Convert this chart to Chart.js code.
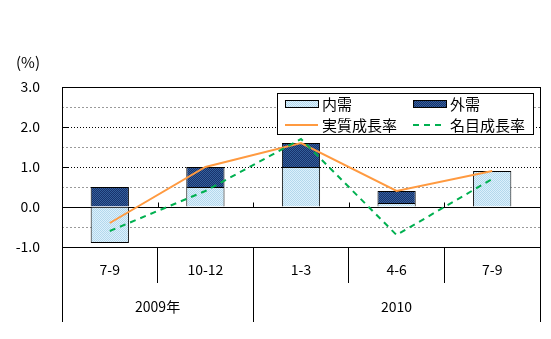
<!DOCTYPE html>
<html>
<head>
<meta charset="utf-8">
<script src="https://cdn.jsdelivr.net/npm/chart.js@4/dist/chart.umd.min.js"></script>
<style>
  html, body { margin: 0; padding: 0; background: #fff; }
  #wrap { width: 551px; height: 339px; }
</style>
</head>
<body>
<div id="wrap"><canvas id="chart" width="551" height="339"></canvas></div>
<script>
// data
const quarters = ['7-9', '10-12', '1-3', '4-6', '7-9'];
const yearLabels = ['2009年', '2010'];
const yearFirstQuarter = [0, 2]; // index of the first quarter of each year
const domestic = [-0.9, 0.5, 1.0, 0.1, 0.9];      // 内需
const external = [0.5, 0.5, 0.6, 0.3, 0.0];       // 外需
const realGrowth = [-0.4, 1.0, 1.6, 0.4, 0.9];    // 実質成長率
const nominalGrowth = [-0.6, 0.4, 1.7, -0.7, 0.7]; // 名目成長率
const yMin = -1, yMax = 3, yStep = 0.5;

const FONT = '"Noto Sans CJK JP", "DejaVu Sans", sans-serif';

function checker(c1, c2) {
  const p = document.createElement('canvas');
  p.width = 2; p.height = 2;
  const g = p.getContext('2d');
  g.fillStyle = c1; g.fillRect(0, 0, 2, 2);
  g.fillStyle = c2; g.fillRect(0, 0, 1, 1); g.fillRect(1, 1, 1, 1);
  return g.createPattern(p, 'repeat');
}
const lightFill = checker('#dcf0fc', '#b4d8ec');
const darkFill = checker('#18326c', '#34609c');

// frame, inner ticks, year row and legend box
const extras = {
  id: 'extras',
  afterDraw(chart) {
    const ctx = chart.ctx;
    const a = chart.chartArea;
    const x = chart.scales.x, y = chart.scales.y;
    const half = (x.getPixelForValue(1) - x.getPixelForValue(0)) / 2;
    const edge = i => x.getPixelForValue(i) - half;
    ctx.save();
    ctx.strokeStyle = '#000';
    ctx.lineWidth = 1;
    ctx.strokeRect(Math.round(a.left) + 0.5, Math.round(a.top) + 0.5,
      Math.round(a.right - a.left), Math.round(a.bottom - a.top));

    ctx.beginPath();
    for (let v = yMin; v <= yMax; v++) {
      const py = Math.round(y.getPixelForValue(v)) + 0.5;
      ctx.moveTo(a.left, py); ctx.lineTo(a.left + 6, py);
    }
    const y0 = Math.round(y.getPixelForValue(0)) + 0.5;
    for (let i = 1; i < quarters.length; i++) {
      const px = Math.round(edge(i)) + 0.5;
      ctx.moveTo(px, y0); ctx.lineTo(px, y0 - 5);
    }
    // year separators
    const seps = yearFirstQuarter.concat([quarters.length]);
    seps.forEach(i => {
      const px = Math.round(edge(i)) + 0.5;
      ctx.moveTo(px, a.bottom); ctx.lineTo(px, a.bottom + 75);
    });
    ctx.stroke();

    ctx.fillStyle = '#000';
    ctx.font = '14px ' + FONT;
    ctx.textAlign = 'center';
    ctx.textBaseline = 'middle';
    yearLabels.forEach((lab, k) => {
      const cx = (edge(seps[k]) + edge(seps[k + 1])) / 2;
      ctx.fillText(lab, cx, a.bottom + 60);
    });
    ctx.textAlign = 'left';
    ctx.font = '15px ' + FONT;
    ctx.fillText('(%)', 16, 62);

    // legend
    const lx = 277, ly = 93, lw = 256, lh = 41;
    ctx.fillStyle = '#fff';
    ctx.fillRect(lx, ly, lw, lh);
    ctx.strokeRect(lx + 0.5, ly + 0.5, lw, lh);
    const ds = chart.data.datasets;
    const slots = [[285, 104], [413, 104], [285, 125], [413, 125]];
    ds.forEach((d, i) => {
      const [sx, sy] = slots[i];
      if (d.type === 'bar') {
        ctx.fillStyle = d.backgroundColor;
        ctx.fillRect(sx, sy - 4, 33, 7);
        ctx.strokeStyle = '#000';
        ctx.strokeRect(sx + 0.5, sy - 3.5, 33, 7);
      } else {
        ctx.strokeStyle = d.borderColor;
        ctx.lineWidth = 2;
        ctx.setLineDash(d.borderDash || []);
        ctx.beginPath(); ctx.moveTo(sx, sy); ctx.lineTo(sx + 33, sy); ctx.stroke();
        ctx.setLineDash([]);
        ctx.lineWidth = 1;
      }
      ctx.fillStyle = '#000';
      ctx.font = '15px ' + FONT;
      ctx.fillText(d.label, sx + 37, sy);
    });
    ctx.restore();
  }
};

new Chart(document.getElementById('chart'), {
  data: {
    labels: quarters,
    datasets: [
      { type: 'bar', label: '内需', data: domestic, stack: 'bars', order: 2,
        backgroundColor: lightFill, borderColor: '#000', borderWidth: 1,
        barPercentage: 0.4, categoryPercentage: 1.0 },
      { type: 'bar', label: '外需', data: external, stack: 'bars', order: 2,
        backgroundColor: darkFill, borderColor: '#000', borderWidth: 1,
        barPercentage: 0.4, categoryPercentage: 1.0 },
      { type: 'line', label: '実質成長率', data: realGrowth, stack: 'real', order: 1,
        borderColor: '#ff9a40', borderWidth: 2, pointRadius: 0, tension: 0, fill: false },
      { type: 'line', label: '名目成長率', data: nominalGrowth, stack: 'nominal', order: 0,
        borderColor: '#00b050', borderWidth: 2, borderDash: [6, 5], pointRadius: 0, tension: 0, fill: false }
    ]
  },
  options: {
    responsive: false,
    animation: false,
    layout: { padding: { left: 0, top: 87, right: 11, bottom: 0 } },
    plugins: { legend: { display: false }, tooltip: { enabled: false } },
    scales: {
      x: {
        stacked: true,
        offset: true,
        afterFit: s => { s.height = 92; },
        grid: { offset: true, drawOnChartArea: false, drawTicks: true, tickLength: 36, color: '#000' },
        border: { display: false },
        ticks: { color: '#000', font: { family: FONT, size: 14 }, padding: -22, maxRotation: 0 }
      },
      y: {
        stacked: true,
        min: yMin, max: yMax,
        afterFit: s => { s.width = 62; },
        ticks: {
          stepSize: yStep,
          color: '#000',
          font: { family: FONT, size: 14 },
          padding: 22,
          callback: v => Number.isInteger(v) ? v.toFixed(1) : ''
        },
        grid: {
          drawTicks: false,
          color: c => (Number.isInteger(c.tick.value) ? '#000' : '#9a9a9a')
        },
        border: {
          display: false,
          dash: c => {
            const v = c.tick ? c.tick.value : 0;
            if (v === 0 || v === yMin || v === yMax) return [];
            return Number.isInteger(v) ? [1, 2] : [2, 2];
          }
        }
      }
    }
  },
  plugins: [extras]
});
</script>
</body>
</html>
